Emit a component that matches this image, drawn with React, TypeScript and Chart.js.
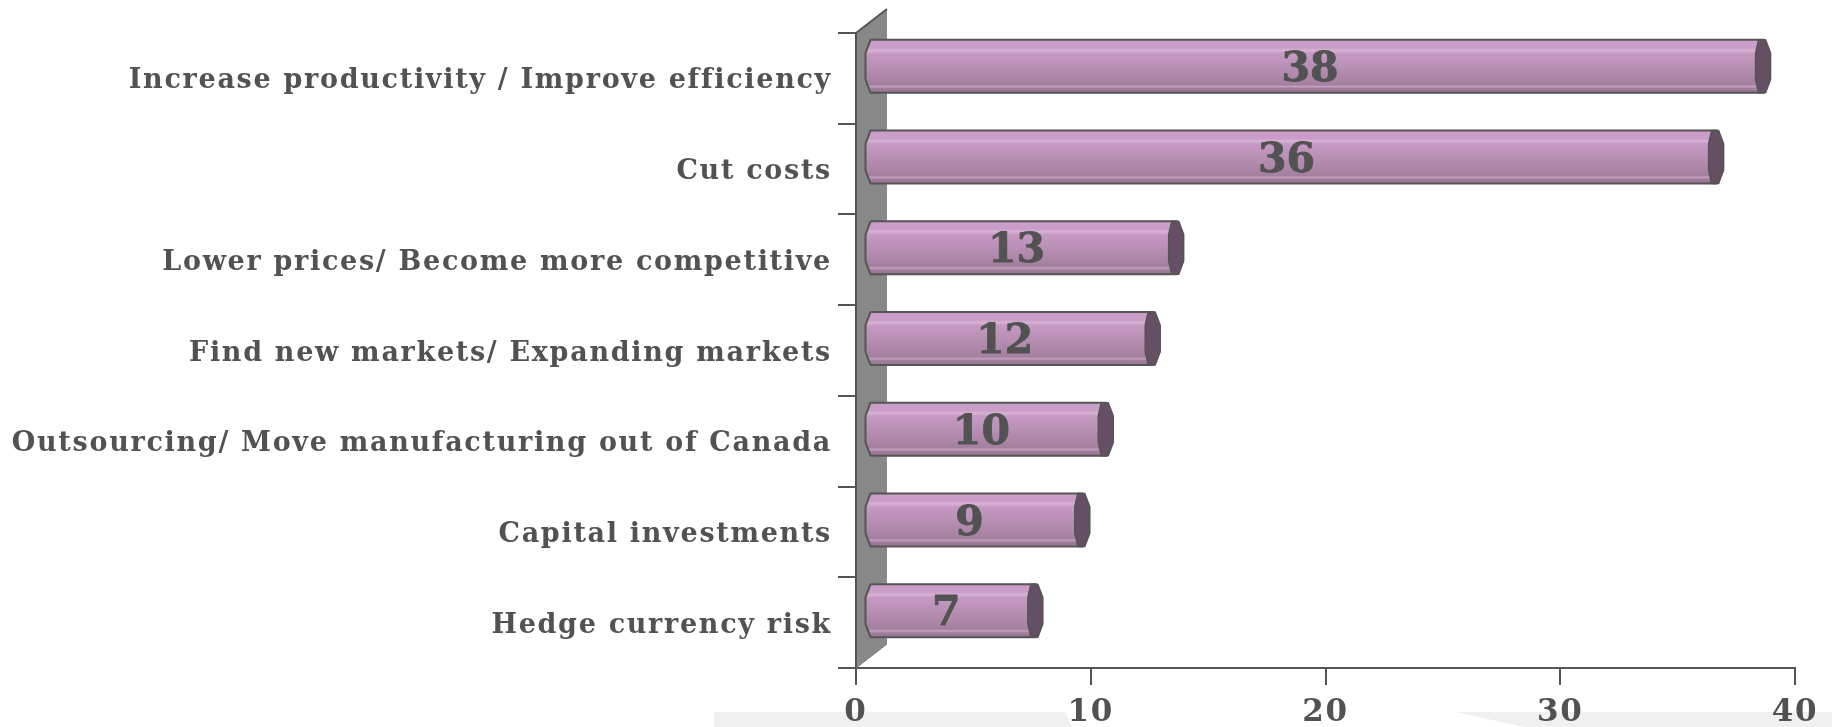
import React, { useEffect, useRef } from "react";
import { Chart, registerables } from "chart.js";

Chart.register(...registerables);

const categories = [
  "Increase productivity / Improve efficiency",
  "Cut costs",
  "Lower prices/ Become more competitive",
  "Find new markets/ Expanding markets",
  "Outsourcing/ Move manufacturing out of Canada",
  "Capital investments",
  "Hedge currency risk",
];
const values = [38, 36, 13, 12, 10, 9, 7];
const xMin = 0;
const xMax = 40;
const xStep = 10;

const DEPTH_X = 31;
const DEPTH_Y = -24;
const TEXT = "#525252";
const LINE = "#555555";
const FONT = "DejaVu Serif";

const threeD = {
  id: "threeD",
  beforeDraw(chart: any) {
    const { ctx } = chart;
    ctx.letterSpacing = "1.7px";
    ctx.save();
    ctx.fillStyle = "#f0f0f0";
    ctx.beginPath();
    ctx.moveTo(714, 712);
    ctx.lineTo(1065, 712);
    ctx.lineTo(1072, 727);
    ctx.lineTo(714, 727);
    ctx.closePath();
    ctx.fill();
    ctx.beginPath();
    ctx.moveTo(1455, 712);
    ctx.lineTo(1832, 712);
    ctx.lineTo(1832, 727);
    ctx.lineTo(1525, 727);
    ctx.closePath();
    ctx.fill();
    ctx.restore();
  },
  beforeDatasetsDraw(chart: any) {
    const { ctx, chartArea } = chart;
    const { left, top, bottom } = chartArea;
    ctx.save();
    ctx.beginPath();
    ctx.moveTo(left, bottom);
    ctx.lineTo(left, top);
    ctx.lineTo(left + DEPTH_X, top + DEPTH_Y);
    ctx.lineTo(left + DEPTH_X, bottom + DEPTH_Y);
    ctx.closePath();
    ctx.fillStyle = "#888888";
    ctx.fill();
    ctx.strokeStyle = LINE;
    ctx.lineWidth = 2;
    ctx.lineJoin = "round";
    ctx.beginPath();
    ctx.moveTo(left, bottom);
    ctx.lineTo(left, top);
    ctx.lineTo(left + DEPTH_X, top + DEPTH_Y);
    ctx.stroke();
    ctx.lineWidth = 1;
    ctx.strokeStyle = "#777";
    ctx.beginPath();
    ctx.moveTo(left + DEPTH_X, bottom + DEPTH_Y);
    ctx.lineTo(left, bottom);
    ctx.stroke();
    ctx.restore();
  },
  afterDatasetsDraw(chart: any) {
    const { ctx } = chart;
    const xScale = chart.scales.x;
    const meta = chart.getDatasetMeta(0);
    const zeroPx = xScale.getPixelForValue(0);
    ctx.save();
    meta.data.forEach((el: any, i: number) => {
      const h = el.height;
      const top = el.y - h / 2 + DEPTH_Y / 2;
      const bottom = top + h;
      const x0 = zeroPx + DEPTH_X / 2;
      const x1 = el.x + DEPTH_X / 2;
      const q = h * 0.25;
      const grad = ctx.createLinearGradient(0, top, 0, bottom);
      grad.addColorStop(0, "#cb9ec9");
      grad.addColorStop(0.15, "#c99dc7");
      grad.addColorStop(0.2, "#d8b3d5");
      grad.addColorStop(0.25, "#c69ac4");
      grad.addColorStop(0.55, "#b68db2");
      grad.addColorStop(0.85, "#a47f9f");
      grad.addColorStop(0.88, "#c2a0be");
      grad.addColorStop(0.92, "#a17c9c");
      grad.addColorStop(1, "#977491");
      // body
      ctx.beginPath();
      ctx.moveTo(x0 - 1, top);
      ctx.lineTo(x1, top);
      ctx.lineTo(x1, bottom);
      ctx.lineTo(x0 - 1, bottom);
      ctx.lineTo(x0 - 6, bottom - q);
      ctx.lineTo(x0 - 6, top + q);
      ctx.closePath();
      ctx.fillStyle = grad;
      ctx.fill();
      ctx.lineWidth = 2;
      ctx.strokeStyle = LINE;
      ctx.lineJoin = "round";
      ctx.stroke();
      // end cap
      ctx.beginPath();
      ctx.moveTo(x1 - 5, top);
      ctx.lineTo(x1 + 2, top);
      ctx.lineTo(x1 + 7, top + q);
      ctx.lineTo(x1 + 7, bottom - q);
      ctx.lineTo(x1 + 2, bottom);
      ctx.lineTo(x1 - 5, bottom);
      ctx.lineTo(x1 - 8, bottom - q);
      ctx.lineTo(x1 - 8, top + q);
      ctx.closePath();
      ctx.fillStyle = "#654f64";
      ctx.fill();
      ctx.lineWidth = 1.5;
      ctx.strokeStyle = LINE;
      ctx.stroke();
      // value label
      ctx.letterSpacing = "0px";
      ctx.fillStyle = TEXT;
      ctx.font = `bold 41px "${FONT}"`;
      ctx.textAlign = "center";
      ctx.textBaseline = "middle";
      ctx.lineWidth = 0.8;
      ctx.strokeStyle = TEXT;
      const tx = (zeroPx + el.x) / 2 + 8;
      const ty = (top + bottom) / 2 + 4;
      ctx.fillText(String(values[i]), tx, ty);
      ctx.strokeText(String(values[i]), tx, ty);
    });
    ctx.restore();
  },
};

export default function App() {
  const ref = useRef<HTMLCanvasElement>(null);
  useEffect(() => {
    document.body.style.margin = "0";
    const chart = new Chart(ref.current as HTMLCanvasElement, {
      type: "bar",
      data: {
        labels: categories,
        datasets: [
          {
            data: values,
            backgroundColor: "rgba(0,0,0,0)",
            borderWidth: 0,
            barPercentage: 0.584,
            categoryPercentage: 1,
          },
        ],
      },
      plugins: [threeD],
      options: {
        indexAxis: "y",
        responsive: false,
        animation: false,
        layout: { padding: { top: 33, right: 37, left: 0, bottom: 0 } },
        plugins: {
          legend: { display: false },
          tooltip: { enabled: false },
          title: { display: false },
        },
        scales: {
          x: {
            type: "linear",
            min: xMin,
            max: xMax,
            ticks: {
              stepSize: xStep,
              color: TEXT,
              font: { family: FONT, weight: "bold", size: 31 },
              padding: 9,
            },
            grid: {
              drawOnChartArea: false,
              drawTicks: true,
              tickLength: 17,
              color: LINE,
              lineWidth: 2,
            },
            border: { display: true, color: LINE, width: 2 },
            afterFit: (s: any) => {
              s.height = 59;
            },
          },
          y: {
            type: "category",
            ticks: {
              color: TEXT,
              font: { family: FONT, weight: "bold", size: 27 },
              padding: 6,
              labelOffset: 3,
              autoSkip: false,
            },
            grid: {
              offset: true,
              drawOnChartArea: false,
              drawTicks: true,
              tickLength: 18,
              color: LINE,
              lineWidth: 2,
            },
            border: { display: true, color: LINE, width: 2 },
            afterFit: (s: any) => {
              s.width = 856;
            },
          },
        },
      } as any,
    });
    return () => chart.destroy();
  }, []);
  return (
    <div style={{ position: "fixed", left: 0, top: 0, width: 1832, height: 727, background: "#fff" }}>
      <canvas ref={ref} width={1832} height={727} />
    </div>
  );
}
